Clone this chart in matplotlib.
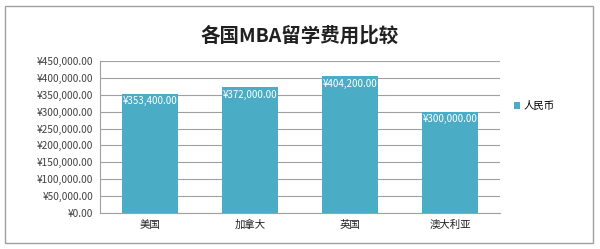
import matplotlib.pyplot as plt
from matplotlib.patches import Rectangle

plt.rcParams['font.family'] = ['Noto Sans CJK SC', 'DejaVu Sans']

countries = ["美国", "加拿大", "英国", "澳大利亚"]
costs = [353400, 372000, 404200, 300000]
yticks = list(range(0, 450001, 50000))
series_name = "人民币"
bar_color = "#4BACC6"


def yuan(v):
    return f"¥{v:,.2f}"


fig = plt.figure(figsize=(6, 2.49), dpi=100)
fig.patches.append(Rectangle((5 / 600, 6 / 249), 588 / 600, 237 / 249,
                             transform=fig.transFigure, fill=False,
                             edgecolor="#a0a0a0", linewidth=1))

ax = fig.add_axes([100 / 600, 36 / 249, 400 / 600, 152 / 249])
x = range(len(countries))
bars = ax.bar(x, costs, width=0.56, color=bar_color, label=series_name, zorder=3)
ax.set_xlim(-0.5, len(countries) - 0.5)
ax.set_ylim(0, 450000)
ax.set_yticks(yticks)
ax.set_yticklabels([yuan(v) for v in yticks], fontsize=7.3, color="#404040")
ax.set_xticks(list(x))
ax.set_xticklabels(countries, fontsize=7.5, color="#202020")
ax.tick_params(axis="both", length=0, pad=5)
ax.grid(axis="y", color="#a0a0a0", linewidth=0.8, zorder=0)
for s in ["top", "right"]:
    ax.spines[s].set_visible(False)
ax.spines["left"].set_color("#a0a0a0")
ax.spines["bottom"].set_color("#a0a0a0")

for b, v in zip(bars, costs):
    ax.text(b.get_x() + b.get_width() / 2, v - 8000, yuan(v), ha="center",
            va="top", fontsize=7, color="white", zorder=4)

fig.text(0.5, 0.855, "各国MBA留学费用比较", ha="center", va="center",
         fontsize=14, fontweight="semibold", color="#202020")

leg = fig.legend(loc="center left", bbox_to_anchor=(510 / 600, 143 / 249),
                 frameon=False, fontsize=7.5, handlelength=0.6, handleheight=0.6,
                 handletextpad=0.3, borderaxespad=0)

fig.savefig("out.png", dpi=100)
